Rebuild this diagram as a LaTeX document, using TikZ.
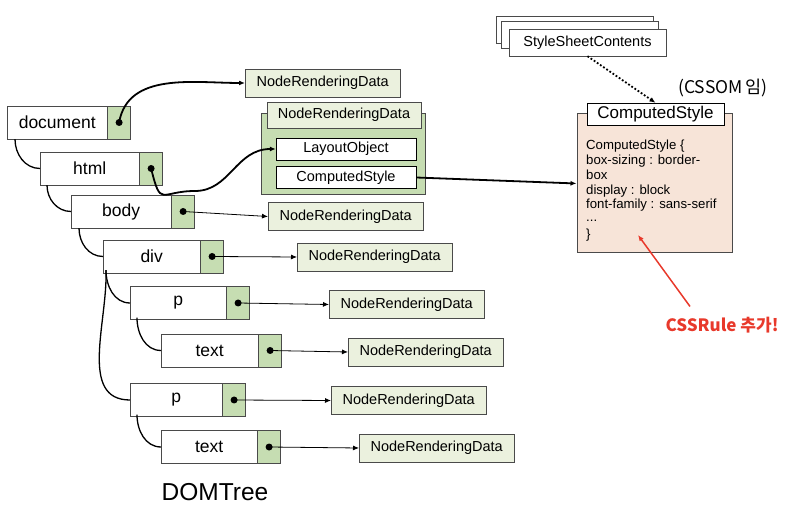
\documentclass[tikz,border=0pt]{standalone}
\usepackage{fontspec}
\setmainfont{Liberation Sans}
\newfontfamily\kofont{Noto Sans CJK KR}
\usetikzlibrary{positioning,arrows.meta}

\definecolor{ptrgreen}{HTML}{C6DDB2}
\definecolor{nrdgreen}{HTML}{EBF1DE}
\definecolor{grpgreen}{HTML}{C6DDB2}
\definecolor{peach}{HTML}{F7E4D8}
\definecolor{boxline}{HTML}{4A4A4A}
\definecolor{alertred}{HTML}{E8392B}

\tikzset{
  dombox/.style={draw=boxline, fill=white, minimum height=33pt, inner sep=0pt, font=\fontsize{17.5}{19}\selectfont},
  ptrbox/.style={draw=boxline, fill=ptrgreen, minimum width=23pt, minimum height=33pt, inner sep=0pt},
  ptrdot/.style={circle, fill=black, inner sep=0pt, minimum size=7pt},
  nrdbox/.style={draw=boxline, fill=nrdgreen, minimum width=155pt, minimum height=28pt, inner sep=0pt, font=\fontsize{14.5}{16}\selectfont},
  subbox/.style={draw=black, fill=white, minimum width=140pt, minimum height=22pt, inner sep=0pt, font=\fontsize{14.5}{16}\selectfont},
  stackbox/.style={draw=boxline, fill=white, minimum width=157pt, minimum height=27pt, inner sep=0pt, font=\fontsize{14.5}{16}\selectfont},
  treeline/.style={line width=1.3pt},
  ptrline/.style={->, line width=0.8pt},
  bigline/.style={->, line width=1.8pt},
}

\begin{document}
\begin{tikzpicture}[x=1pt, y=1pt, >={Latex[length=6pt,width=5pt]}]
  \useasboundingbox (0,0) rectangle (800,514);

  % 1. DOM 노드
  \node[dombox, minimum width=100pt, anchor=west] (document) at (7,391.5) {document};
  \node[ptrbox, right=0pt of document] (documentptr) {};
  \node[dombox, minimum width=99pt, anchor=west] (html) at (40,345.5) {html};
  \node[ptrbox, right=0pt of html] (htmlptr) {};
  \node[dombox, minimum width=100pt, anchor=west] (body) at (71,302.5) {body};
  \node[ptrbox, right=0pt of body] (bodyptr) {};
  \node[dombox, minimum width=97pt, anchor=west] (div) at (103,257.5) {div};
  \node[ptrbox, right=0pt of div] (divptr) {};
  \node[dombox, minimum width=96pt, anchor=west] (pone) at (130,211) {p};
  \node[ptrbox, right=0pt of pone] (poneptr) {};
  \node[dombox, minimum width=97pt, anchor=west] (textone) at (161,163.5) {text};
  \node[ptrbox, right=0pt of textone] (textoneptr) {};
  \node[dombox, minimum width=92pt, anchor=west] (ptwo) at (130,114) {p};
  \node[ptrbox, right=0pt of ptwo] (ptwoptr) {};
  \node[dombox, minimum width=96pt, anchor=west] (texttwo) at (161,67) {text};
  \node[ptrbox, right=0pt of texttwo] (texttwoptr) {};

  \node[font=\fontsize{24.5}{26}\selectfont] (domtree) at (215,22) {DOMTree};

  % 2. 트리 연결선
  \draw[treeline] ([xshift=8pt]document.south west) to[out=-90, in=180] (html.west);
  \draw[treeline] ([xshift=7pt]html.south west) to[out=-90, in=180] (body.west);
  \draw[treeline] ([xshift=8pt]body.south west) to[out=-90, in=180] (div.west);
  \draw[treeline] ([xshift=3pt, yshift=3pt]div.south west) to[out=-90, in=180] (pone.west);
  \draw[treeline] ([xshift=3pt, yshift=3pt]div.south west) to[out=-88, in=180] (ptwo.west);
  \draw[treeline] ([xshift=7pt, yshift=2pt]pone.south west) to[out=-90, in=180] (textone.west);
  \draw[treeline] ([xshift=7pt, yshift=2pt]ptwo.south west) to[out=-90, in=180] (texttwo.west);

  % 3. NodeRenderingData
  \node[nrdbox, anchor=west] (docdata) at (245,431) {NodeRenderingData};
  \node[draw=boxline, fill=grpgreen, minimum width=164pt, minimum height=81pt, inner sep=0pt] (htmldata) at (343,360.5) {};
  \node[nrdbox, minimum width=154pt, minimum height=26pt] (htmlhead) at (344,399) {NodeRenderingData};
  \node[subbox] (layout) at (346,365) {LayoutObject};
  \node[subbox] (compstyle) at (346,336.5) {ComputedStyle};
  \node[nrdbox, anchor=west] (bodydata) at (268,297.5) {NodeRenderingData};
  \node[nrdbox, anchor=west] (divdata) at (297,257) {NodeRenderingData};
  \node[nrdbox, anchor=west] (ponedata) at (329,209.5) {NodeRenderingData};
  \node[nrdbox, anchor=west] (textonedata) at (348,162) {NodeRenderingData};
  \node[nrdbox, anchor=west] (ptwodata) at (331,113.5) {NodeRenderingData};
  \node[nrdbox, anchor=west] (texttwodata) at (359,66) {NodeRenderingData};

  % 4. 포인터 점과 화살표
  \node[ptrdot] (documentdot) at (documentptr) {};
  \node[ptrdot] (htmldot) at (htmlptr) {};
  \node[ptrdot] (bodydot) at (bodyptr) {};
  \node[ptrdot] (divdot) at (divptr) {};
  \node[ptrdot] (ponedot) at (poneptr) {};
  \node[ptrdot] (textonedot) at (textoneptr) {};
  \node[ptrdot] (ptwodot) at (ptwoptr) {};
  \node[ptrdot] (texttwodot) at (texttwoptr) {};

  \draw[bigline] (documentdot.center) to[out=80, in=180] (docdata.west);
  \draw[bigline] (htmldot.center) .. controls +(10,-40) and +(-35,0) .. (195,323)
        .. controls +(35,0) and +(-40,0) .. (layout.west);
  \draw[ptrline] (bodydot.center) -- (bodydata.west);
  \draw[ptrline] (divdot.center) -- (divdata.west);
  \draw[ptrline] (ponedot.center) -- (ponedata.west);
  \draw[ptrline] (textonedot.center) -- (textonedata.west);
  \draw[ptrline] (ptwodot.center) -- (ptwodata.west);
  \draw[ptrline] (texttwodot.center) -- (texttwodata.west);

  % 5. CSSOM 쪽
  \node[stackbox] (stackback) at (574.5,484.5) {};
  \node[stackbox] (stackmid) at (579.5,479.5) {};
  \node[stackbox] (stackfront) at (587.5,471.5) {StyleSheetContents};

  \node[draw=boxline, line width=1pt, fill=peach, minimum width=155pt, minimum height=139pt, inner sep=0pt] (csbox) at (654.5,330.5) {};
  \node[draw=black, fill=white, minimum width=137pt, minimum height=22pt, inner sep=0pt, font=\fontsize{17}{18}\selectfont] (cshead) at (655.5,400) {ComputedStyle};
  \node[anchor=north west, align=left, inner sep=0pt, font=\fontsize{13.2}{14.8}\selectfont] (csrules) at (586,374)
    {ComputedStyle \{\\box-sizing : border-\\box\\display : block\\font-family : sans-serif\\\raisebox{0.35ex}{...}\\\}};
  \node[font=\kofont\fontsize{17.5}{19}\selectfont] (cssom) at (723,426) {(CSSOM\,임)};

  \draw[->, dotted, line width=1.8pt] (stackfront.south) -- (cshead.north);
  \draw[bigline] (compstyle.east) -- (csbox.west);

  % 6. 추가 표시
  \node[font=\kofont\bfseries\fontsize{17}{19}\selectfont, text=alertred] (cssrule) at (722,189) {CSSRule 추가!};
  \coordinate (ruletarget) at (638,279);
  \draw[->, alertred, line width=1.5pt] ([xshift=-32pt, yshift=7pt]cssrule.north) -- (ruletarget);
\end{tikzpicture}
\end{document}
